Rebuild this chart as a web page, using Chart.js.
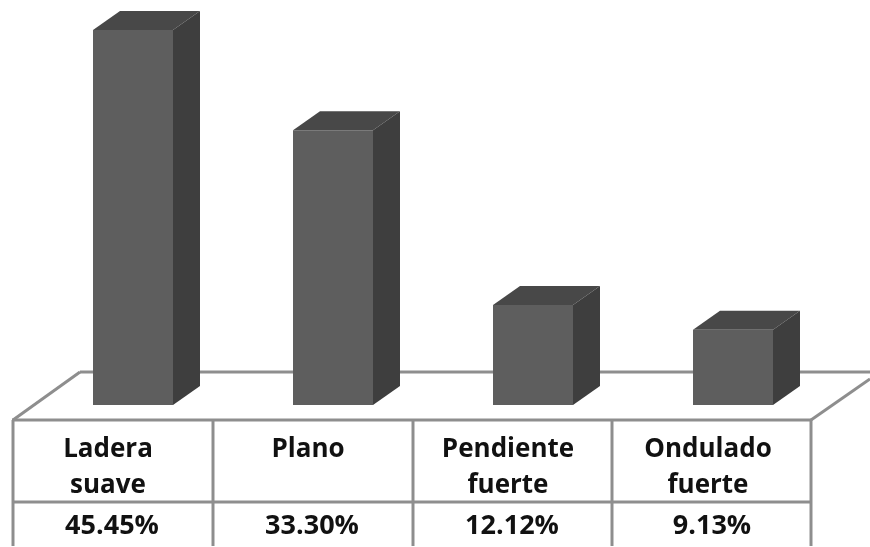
<!DOCTYPE html>
<html>
<head>
<meta charset="utf-8">
<title>Pendiente del terreno</title>
<script src="https://cdn.jsdelivr.net/npm/chart.js@4"></script>
<style>
    html, body { margin: 0; padding: 0; background: #fff; }
    #chart { display: block; filter: blur(0.6px); }
</style>
</head>
<body>
<canvas id="chart" width="870" height="547"></canvas>
<script>
const categories = [['Ladera', 'suave'], ['Plano'], ['Pendiente', 'fuerte'], ['Ondulado', 'fuerte']];
const shares = [45.45, 33.30, 12.12, 9.13];

const LINE = '#8e8e8e';
const NAME_FONT = 'bold 26px "Open Sans"';
const VALUE_FONT = 'bold 27px "Open Sans"';
const DEPTH_X = 27;
const DEPTH_Y = 19;

function poly(ctx, color, pts) {
    ctx.fillStyle = color;
    ctx.beginPath();
    pts.forEach((p, i) => i ? ctx.lineTo(p[0], p[1]) : ctx.moveTo(p[0], p[1]));
    ctx.closePath();
    ctx.fill();
}

function line(ctx, x1, y1, x2, y2) {
    ctx.beginPath();
    ctx.moveTo(x1, y1);
    ctx.lineTo(x2, y2);
    ctx.stroke();
}

// Floor, table grid and the side and top of each bar, behind the bars
const floorAndDepth = {
    id: 'floorAndDepth',
    beforeDatasetsDraw(chart) {
        const ctx = chart.ctx;
        const base = chart.scales.y.getPixelForValue(0);
        const colX = [13, 213, 413, 612, 811];

        ctx.save();
        ctx.strokeStyle = LINE;
        ctx.lineWidth = 3;
        line(ctx, 80, base - 33, 870, base - 33);
        line(ctx, colX[0], base + 15, 80, base - 33);
        line(ctx, colX[4], base + 15, 870, base - 26);
        line(ctx, colX[0] - 1, base + 15, colX[4] + 1, base + 15);
        line(ctx, colX[0], base + 97, colX[4], base + 97);
        colX.forEach(x => line(ctx, x, base + 15, x, 546));

        chart.getDatasetMeta(0).data.forEach(bar => {
            const left = bar.x - bar.width / 2;
            const right = bar.x + bar.width / 2;
            poly(ctx, '#484848', [[left, bar.y], [left + DEPTH_X, bar.y - DEPTH_Y], [right + DEPTH_X, bar.y - DEPTH_Y], [right, bar.y]]);
            poly(ctx, '#3e3e3e', [[right, bar.y], [right + DEPTH_X, bar.y - DEPTH_Y], [right + DEPTH_X, bar.base - DEPTH_Y], [right, bar.base]]);
        });
        ctx.restore();
    }
};

// Category names and percentages inside the table cells
const tableText = {
    id: 'tableText',
    afterDraw(chart) {
        const ctx = chart.ctx;
        const xScale = chart.scales.x;
        ctx.save();
        ctx.fillStyle = '#111';
        ctx.textAlign = 'center';
        ctx.textBaseline = 'alphabetic';
        categories.forEach((lines, i) => {
            const x = xScale.getPixelForValue(i);
            ctx.font = NAME_FONT;
            lines.forEach((text, k) => ctx.fillText(text, x - 25, 457 + k * 36));
            ctx.font = VALUE_FONT;
            ctx.fillText(shares[i].toFixed(2) + '%', x - 21, 534);
        });
        ctx.restore();
    }
};

new Chart(document.getElementById('chart'), {
    type: 'bar',
    data: {
        labels: categories.map(c => c.join(' ')),
        datasets: [{
            data: shares,
            backgroundColor: '#5e5e5e',
            barPercentage: 1,
            categoryPercentage: 0.4
        }]
    },
    options: {
        responsive: false,
        animation: false,
        devicePixelRatio: 1,
        layout: {
            padding: { left: 33, right: 37, top: 0.75, bottom: 142 }
        },
        plugins: {
            legend: { display: false },
            tooltip: { enabled: false },
            title: { display: false }
        },
        scales: {
            x: { display: false },
            y: { display: false, min: 0, max: 49 }
        }
    },
    plugins: [floorAndDepth, tableText]
});
</script>
</body>
</html>
